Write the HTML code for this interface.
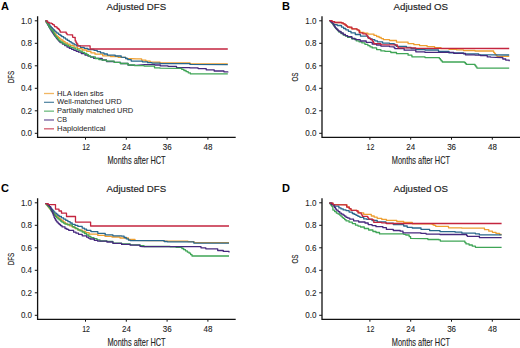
<!DOCTYPE html>
<html><head><meta charset="utf-8"><style>
html,body{margin:0;padding:0;background:#fff;}
svg{display:block;}
text{font-family:"Liberation Sans", sans-serif;}
</style></head><body>
<svg width="520" height="348" viewBox="0 0 520 348">
<rect width="520" height="348" fill="#fff"/>
<g transform="translate(0,0)">
<text x="1.1" y="9.6" font-size="11" font-weight="bold" fill="#000">A</text>
<text x="136.4" y="10" font-size="9.6" text-anchor="middle" fill="#222" stroke="#222" stroke-width="0.15" textLength="59.6" lengthAdjust="spacingAndGlyphs">Adjusted DFS</text>
<path d="M37.6 16.3 V137.3 H235.7" fill="none" stroke="#111" stroke-width="1.3"/>
<path d="M34.8 20.80 H37.6" stroke="#111" stroke-width="1"/>
<text x="32.1" y="23.80" font-size="8.3" text-anchor="end" fill="#222" stroke="#222" stroke-width="0.08" textLength="11.2" lengthAdjust="spacingAndGlyphs">1.0</text>
<path d="M34.8 43.30 H37.6" stroke="#111" stroke-width="1"/>
<text x="32.1" y="46.30" font-size="8.3" text-anchor="end" fill="#222" stroke="#222" stroke-width="0.08" textLength="11.2" lengthAdjust="spacingAndGlyphs">0.8</text>
<path d="M34.8 65.80 H37.6" stroke="#111" stroke-width="1"/>
<text x="32.1" y="68.80" font-size="8.3" text-anchor="end" fill="#222" stroke="#222" stroke-width="0.08" textLength="11.2" lengthAdjust="spacingAndGlyphs">0.6</text>
<path d="M34.8 88.30 H37.6" stroke="#111" stroke-width="1"/>
<text x="32.1" y="91.30" font-size="8.3" text-anchor="end" fill="#222" stroke="#222" stroke-width="0.08" textLength="11.2" lengthAdjust="spacingAndGlyphs">0.4</text>
<path d="M34.8 110.80 H37.6" stroke="#111" stroke-width="1"/>
<text x="32.1" y="113.80" font-size="8.3" text-anchor="end" fill="#222" stroke="#222" stroke-width="0.08" textLength="11.2" lengthAdjust="spacingAndGlyphs">0.2</text>
<path d="M34.8 133.30 H37.6" stroke="#111" stroke-width="1"/>
<text x="32.1" y="136.30" font-size="8.3" text-anchor="end" fill="#222" stroke="#222" stroke-width="0.08" textLength="11.2" lengthAdjust="spacingAndGlyphs">0.0</text>
<path d="M85.5 137.3 V139.70000000000002" stroke="#111" stroke-width="1"/>
<text x="86.10" y="150.4" font-size="8.7" text-anchor="middle" fill="#222" stroke="#222" stroke-width="0.1" textLength="7.8" lengthAdjust="spacingAndGlyphs">12</text>
<path d="M126.3 137.3 V139.70000000000002" stroke="#111" stroke-width="1"/>
<text x="126.40" y="150.4" font-size="8.7" text-anchor="middle" fill="#222" stroke="#222" stroke-width="0.1" textLength="8.9" lengthAdjust="spacingAndGlyphs">24</text>
<path d="M167.1 137.3 V139.70000000000002" stroke="#111" stroke-width="1"/>
<text x="167.20" y="150.4" font-size="8.7" text-anchor="middle" fill="#222" stroke="#222" stroke-width="0.1" textLength="8.9" lengthAdjust="spacingAndGlyphs">36</text>
<path d="M207.9 137.3 V139.70000000000002" stroke="#111" stroke-width="1"/>
<text x="208.00" y="150.4" font-size="8.7" text-anchor="middle" fill="#222" stroke="#222" stroke-width="0.1" textLength="8.9" lengthAdjust="spacingAndGlyphs">48</text>
<text x="136.5" y="163.6" font-size="10.5" text-anchor="middle" fill="#222" stroke="#222" stroke-width="0.12" textLength="58.2" lengthAdjust="spacingAndGlyphs">Months after HCT</text>
<text transform="translate(13.9,77.1) rotate(-90)" x="0" y="0" font-size="9.5" text-anchor="middle" fill="#222" stroke="#222" stroke-width="0.15" textLength="12.5" lengthAdjust="spacingAndGlyphs">DFS</text>
<path d="M44 93.50 H54" stroke="#ee9f30" stroke-width="1.3" opacity="0.75"/>
<text x="57.1" y="95.50" font-size="6.8" fill="#1e1e1e" stroke="#1e1e1e" stroke-width="0.03" textLength="46.4" lengthAdjust="spacingAndGlyphs">HLA iden sibs</text>
<path d="M44 102.33 H54" stroke="#28678c" stroke-width="1.3" opacity="0.75"/>
<text x="57.1" y="104.33" font-size="6.8" fill="#1e1e1e" stroke="#1e1e1e" stroke-width="0.03" textLength="64.6" lengthAdjust="spacingAndGlyphs">Well-matched URD</text>
<path d="M44 111.16 H54" stroke="#3fa556" stroke-width="1.3" opacity="0.75"/>
<text x="57.1" y="113.16" font-size="6.8" fill="#1e1e1e" stroke="#1e1e1e" stroke-width="0.03" textLength="76.2" lengthAdjust="spacingAndGlyphs">Partially matched URD</text>
<path d="M44 119.99 H54" stroke="#46287e" stroke-width="1.3" opacity="0.75"/>
<text x="57.1" y="121.99" font-size="6.8" fill="#1e1e1e" stroke="#1e1e1e" stroke-width="0.03" textLength="10" lengthAdjust="spacingAndGlyphs">CB</text>
<path d="M44 128.82 H54" stroke="#c4253f" stroke-width="1.3" opacity="0.75"/>
<text x="57.1" y="130.82" font-size="6.8" fill="#1e1e1e" stroke="#1e1e1e" stroke-width="0.03" textLength="48.4" lengthAdjust="spacingAndGlyphs">Haploidentical</text>
</g>
<path d="M45.5 20.8 L46.2 20.8 L46.2 22.0 L47.0 22.0 L47.0 23.1 L47.8 23.1 L47.8 24.3 L48.5 24.3 L48.5 25.5 L49.3 25.5 L49.3 26.7 L50.2 26.7 L50.2 27.8 L51.0 27.8 L51.0 29.0 L52.0 29.0 L52.0 30.3 L53.0 30.3 L53.0 31.7 L54.0 31.7 L54.0 33.0 L55.0 33.0 L55.0 34.2 L56.0 34.2 L56.0 35.3 L57.0 35.3 L57.0 36.5 L58.3 36.5 L58.3 37.7 L59.7 37.7 L59.7 38.8 L61.0 38.8 L61.0 40.0 L63.0 40.0 L63.0 41.5 L65.0 41.5 L65.0 43.0 L67.5 43.0 L67.5 44.2 L70.0 44.2 L70.0 45.5 L74.0 45.5 L74.0 47.2 L77.6 47.2 L77.6 48.7 L82.2 48.7 L82.2 50.0 L86.8 50.0 L86.8 51.4 L90.9 51.4 L90.9 52.8 L95.0 52.8 L95.0 54.2 L102.7 54.2 L102.7 55.8 L110.4 55.8 L110.4 56.5 L118.1 56.5 L118.1 57.3 L125.8 57.3 L125.8 58.5 L136.4 58.8 L141.6 58.8 L141.6 60.1 L145.9 60.1 L145.9 61.2 L150.2 61.2 L150.2 62.2 L160.0 62.2 L160.0 62.8 L190.0 62.8 L190.0 63.6 L227.8 63.9" fill="none" stroke="#ee9f30" stroke-width="1.3" stroke-linejoin="round"/>
<path d="M45.5 20.8 L46.8 20.8 L46.8 22.2 L48.0 22.2 L48.0 23.6 L49.0 23.6 L49.0 25.0 L50.0 25.0 L50.0 26.4 L51.2 26.4 L51.2 27.6 L52.3 27.6 L52.3 28.8 L53.5 28.8 L53.5 30.0 L54.6 30.0 L54.6 31.1 L55.8 31.1 L55.8 32.1 L56.9 32.1 L56.9 33.2 L58.5 33.2 L58.5 34.3 L60.1 34.3 L60.1 35.5 L61.7 35.5 L61.7 36.6 L63.6 36.6 L63.6 37.9 L65.5 37.9 L65.5 39.1 L67.3 39.1 L67.3 40.4 L69.2 40.4 L69.2 41.7 L71.1 41.7 L71.1 42.8 L72.9 42.8 L72.9 43.9 L74.8 43.9 L74.8 44.8 L76.7 44.8 L76.7 45.8 L80.4 45.8 L80.4 47.3 L84.2 47.3 L84.2 48.4 L87.9 48.4 L87.9 49.5 L94.0 49.5 L94.0 50.3 L97.2 50.3 L97.2 51.6 L100.5 51.6 L100.5 52.9 L104.0 52.9 L104.0 54.0 L107.4 54.0 L107.4 55.1 L115.2 55.1 L115.2 56.0 L121.2 56.0 L121.2 57.2 L123.4 57.3 L125.6 57.3 L125.6 58.5 L127.8 58.5 L127.8 59.7 L131.2 59.7 L131.2 61.0 L137.2 61.1 L142.4 61.1 L142.4 61.8 L147.6 61.8 L147.6 62.7 L151.9 62.7 L151.9 63.1 L160.0 63.1 L160.0 63.6 L190.0 63.6 L190.0 64.4 L227.8 64.6" fill="none" stroke="#28678c" stroke-width="1.3" stroke-linejoin="round"/>
<path d="M45.5 20.8 L46.1 20.8 L46.1 21.9 L46.8 21.9 L46.8 23.1 L47.4 23.1 L47.4 24.2 L48.0 24.2 L48.0 25.3 L48.6 25.3 L48.6 26.4 L49.2 26.4 L49.2 27.6 L49.9 27.6 L49.9 28.7 L50.5 28.7 L50.5 29.8 L51.3 29.8 L51.3 31.1 L52.1 31.1 L52.1 32.3 L52.9 32.3 L52.9 33.5 L53.7 33.5 L53.7 34.8 L54.6 34.8 L54.6 36.0 L55.5 36.0 L55.5 37.1 L56.4 37.1 L56.4 38.3 L57.3 38.3 L57.3 39.4 L58.2 39.4 L58.2 40.5 L59.2 40.5 L59.2 41.5 L60.1 41.5 L60.1 42.6 L62.4 42.6 L62.4 44.1 L64.7 44.1 L64.7 45.6 L67.0 45.6 L67.0 47.0 L69.3 47.0 L69.3 48.3 L71.6 48.3 L71.6 49.3 L73.9 49.3 L73.9 50.4 L76.2 50.4 L76.2 51.3 L78.5 51.3 L78.5 52.2 L81.3 52.2 L81.3 53.6 L85.0 53.6 L85.0 55.0 L87.9 55.0 L87.9 56.1 L90.7 56.1 L90.7 57.2 L93.6 57.2 L93.6 58.3 L102.2 58.3 L102.2 60.0 L106.5 60.0 L106.5 61.5 L114.2 61.5 L114.2 62.3 L120.4 62.3 L120.4 63.5 L128.0 63.5 L128.0 65.0 L136.0 65.3 L144.9 64.6 L154.9 64.6 L154.9 65.0 L160.3 65.0 L160.3 65.9 L168.0 65.9 L168.0 66.3 L176.5 66.3 L176.5 67.6 L190.0 67.6 L190.0 67.9 L198.1 67.9 L198.1 68.6 L206.2 68.6 L206.2 69.8 L214.2 69.8 L214.2 71.0 L223.9 71.0 L223.9 71.8 L227.8 71.8 L227.8 72.4" fill="none" stroke="#46287e" stroke-width="1.3" stroke-linejoin="round"/>
<path d="M45.5 20.8 L46.3 20.8 L46.3 22.2 L47.2 22.2 L47.2 23.6 L48.0 23.6 L48.0 25.0 L48.7 25.0 L48.7 26.2 L49.3 26.2 L49.3 27.3 L50.0 27.3 L50.0 28.5 L50.9 28.5 L50.9 29.6 L51.9 29.6 L51.9 30.6 L52.8 30.6 L52.8 31.7 L53.5 31.7 L53.5 32.9 L54.1 32.9 L54.1 34.0 L54.8 34.0 L54.8 35.1 L55.5 35.1 L55.5 36.3 L56.4 36.3 L56.4 37.4 L57.4 37.4 L57.4 38.6 L58.3 38.6 L58.3 39.8 L59.2 39.8 L59.2 40.9 L60.7 40.9 L60.7 42.0 L62.3 42.0 L62.3 43.0 L63.8 43.0 L63.8 44.1 L66.1 44.1 L66.1 45.2 L68.4 45.2 L68.4 46.4 L70.7 46.4 L70.7 47.3 L73.0 47.3 L73.0 48.2 L75.3 48.2 L75.3 49.2 L77.6 49.2 L77.6 50.1 L79.9 50.1 L79.9 51.2 L82.2 51.2 L82.2 52.4 L84.5 52.4 L84.5 53.5 L86.8 53.5 L86.8 54.7 L88.5 54.7 L88.5 55.8 L90.2 55.8 L90.2 56.8 L95.3 56.8 L95.3 58.5 L98.8 58.5 L98.8 59.6 L102.2 59.6 L102.2 60.2 L106.5 60.2 L106.5 61.2 L114.2 61.2 L114.2 62.3 L120.4 62.3 L120.4 63.5 L128.1 63.5 L128.1 65.0 L134.7 65.0 L134.7 65.7 L144.1 65.7 L144.1 66.1 L154.5 66.1 L154.5 67.8 L160.0 67.8 L160.0 68.2 L179.6 68.3 L181.8 68.3 L181.8 69.4 L183.9 69.4 L183.9 70.5 L186.1 70.5 L186.1 71.7 L188.2 71.7 L188.2 72.8 L190.4 72.8 L190.4 73.9 L227.8 73.9" fill="none" stroke="#3fa556" stroke-width="1.3" stroke-linejoin="round"/>
<path d="M45.5 20.8 L47.5 20.8 L47.5 22.3 L49.2 22.3 L49.2 23.2 L51.5 23.2 L51.5 23.6 L52.6 23.6 L52.6 24.6 L53.8 24.6 L53.8 25.0 L54.5 25.0 L54.5 26.7 L56.2 26.7 L56.2 27.2 L57.2 27.2 L57.2 28.5 L58.7 28.5 L58.7 29.4 L59.5 29.4 L59.5 30.7 L60.2 30.7 L60.2 32.0 L65.5 32.2 L66.2 32.2 L66.2 33.4 L67.0 33.4 L67.0 34.6 L71.4 34.8 L72.6 34.8 L72.6 37.2 L74.4 37.5 L75.2 37.5 L75.2 40.9 L76.0 40.9 L76.0 42.4 L76.7 42.4 L76.7 43.9 L77.8 43.9 L77.8 45.8 L89.3 45.9 L90.1 45.9 L90.1 49.0 L227.8 49.0" fill="none" stroke="#c4253f" stroke-width="1.3" stroke-linejoin="round"/>
<g transform="translate(284.4,0)">
<text x="-2.4" y="9.6" font-size="11" font-weight="bold" fill="#000">B</text>
<text x="136.4" y="10" font-size="9.6" text-anchor="middle" fill="#222" stroke="#222" stroke-width="0.15" textLength="54.6" lengthAdjust="spacingAndGlyphs">Adjusted OS</text>
<path d="M37.6 16.3 V137.3 H235.7" fill="none" stroke="#111" stroke-width="1.3"/>
<path d="M34.8 20.80 H37.6" stroke="#111" stroke-width="1"/>
<text x="32.1" y="23.80" font-size="8.3" text-anchor="end" fill="#222" stroke="#222" stroke-width="0.08" textLength="11.2" lengthAdjust="spacingAndGlyphs">1.0</text>
<path d="M34.8 43.30 H37.6" stroke="#111" stroke-width="1"/>
<text x="32.1" y="46.30" font-size="8.3" text-anchor="end" fill="#222" stroke="#222" stroke-width="0.08" textLength="11.2" lengthAdjust="spacingAndGlyphs">0.8</text>
<path d="M34.8 65.80 H37.6" stroke="#111" stroke-width="1"/>
<text x="32.1" y="68.80" font-size="8.3" text-anchor="end" fill="#222" stroke="#222" stroke-width="0.08" textLength="11.2" lengthAdjust="spacingAndGlyphs">0.6</text>
<path d="M34.8 88.30 H37.6" stroke="#111" stroke-width="1"/>
<text x="32.1" y="91.30" font-size="8.3" text-anchor="end" fill="#222" stroke="#222" stroke-width="0.08" textLength="11.2" lengthAdjust="spacingAndGlyphs">0.4</text>
<path d="M34.8 110.80 H37.6" stroke="#111" stroke-width="1"/>
<text x="32.1" y="113.80" font-size="8.3" text-anchor="end" fill="#222" stroke="#222" stroke-width="0.08" textLength="11.2" lengthAdjust="spacingAndGlyphs">0.2</text>
<path d="M34.8 133.30 H37.6" stroke="#111" stroke-width="1"/>
<text x="32.1" y="136.30" font-size="8.3" text-anchor="end" fill="#222" stroke="#222" stroke-width="0.08" textLength="11.2" lengthAdjust="spacingAndGlyphs">0.0</text>
<path d="M85.5 137.3 V139.70000000000002" stroke="#111" stroke-width="1"/>
<text x="86.10" y="150.4" font-size="8.7" text-anchor="middle" fill="#222" stroke="#222" stroke-width="0.1" textLength="7.8" lengthAdjust="spacingAndGlyphs">12</text>
<path d="M126.3 137.3 V139.70000000000002" stroke="#111" stroke-width="1"/>
<text x="126.40" y="150.4" font-size="8.7" text-anchor="middle" fill="#222" stroke="#222" stroke-width="0.1" textLength="8.9" lengthAdjust="spacingAndGlyphs">24</text>
<path d="M167.1 137.3 V139.70000000000002" stroke="#111" stroke-width="1"/>
<text x="167.20" y="150.4" font-size="8.7" text-anchor="middle" fill="#222" stroke="#222" stroke-width="0.1" textLength="8.9" lengthAdjust="spacingAndGlyphs">36</text>
<path d="M207.9 137.3 V139.70000000000002" stroke="#111" stroke-width="1"/>
<text x="208.00" y="150.4" font-size="8.7" text-anchor="middle" fill="#222" stroke="#222" stroke-width="0.1" textLength="8.9" lengthAdjust="spacingAndGlyphs">48</text>
<text x="136.5" y="163.6" font-size="10.5" text-anchor="middle" fill="#222" stroke="#222" stroke-width="0.12" textLength="58.2" lengthAdjust="spacingAndGlyphs">Months after HCT</text>
<text transform="translate(13.9,77.1) rotate(-90)" x="0" y="0" font-size="9.5" text-anchor="middle" fill="#222" stroke="#222" stroke-width="0.15" textLength="9" lengthAdjust="spacingAndGlyphs">OS</text>
</g>
<path d="M329.4 20.6 L332.0 20.6 L332.0 21.6 L334.6 21.6 L334.6 22.5 L341.5 22.5 L341.5 23.0 L343.2 23.0 L343.2 23.9 L345.0 23.9 L345.0 24.8 L346.3 24.8 L346.3 25.9 L347.6 25.9 L347.6 27.0 L349.8 27.0 L349.8 27.9 L351.9 27.9 L351.9 28.8 L357.0 28.8 L357.0 29.8 L358.6 29.8 L358.6 31.0 L360.2 31.0 L360.2 32.3 L364.0 32.3 L364.0 33.2 L367.9 33.2 L367.9 34.1 L374.0 34.1 L374.0 35.4 L376.6 35.4 L376.6 36.5 L379.1 36.5 L379.1 37.5 L381.2 37.5 L381.2 38.6 L383.4 38.6 L383.4 39.7 L389.5 39.7 L389.5 40.5 L396.5 40.5 L396.5 42.2 L408.1 42.2 L408.1 43.7 L413.9 43.7 L413.9 44.7 L419.6 44.7 L419.6 45.6 L427.1 45.6 L427.1 46.6 L434.6 46.6 L434.6 47.6 L441.0 47.6 L441.0 48.7 L449.0 48.7 L449.0 49.3 L456.7 49.3 L456.7 49.9 L463.5 49.9 L463.5 50.5 L475.0 50.5 L475.0 51.0 L493.6 51.0 L493.6 52.3 L494.5 52.3 L494.5 53.3 L495.3 53.3 L495.3 54.3 L496.1 54.3 L496.1 55.3 L497.0 55.3 L497.0 56.3 L509.2 56.3" fill="none" stroke="#ee9f30" stroke-width="1.3" stroke-linejoin="round"/>
<path d="M329.4 20.6 L330.9 20.6 L330.9 21.9 L332.3 21.9 L332.3 23.3 L333.8 23.3 L333.8 24.6 L337.2 24.6 L337.2 25.5 L341.5 25.5 L341.5 27.2 L343.6 27.2 L343.6 28.5 L345.8 28.5 L345.8 29.8 L348.4 29.8 L348.4 31.3 L351.0 31.3 L351.0 32.8 L355.3 32.8 L355.3 34.5 L360.5 34.5 L360.5 36.2 L367.9 36.2 L367.9 37.9 L370.0 37.9 L370.0 38.8 L372.2 38.8 L372.2 39.7 L374.8 39.7 L374.8 40.8 L377.4 40.8 L377.4 41.8 L382.6 41.8 L382.6 43.1 L389.5 43.1 L389.5 43.6 L394.2 43.6 L394.2 44.5 L395.4 44.5 L395.4 45.5 L396.5 45.5 L396.5 46.4 L406.5 46.4 L406.5 47.5 L411.1 47.5 L411.1 48.5 L415.8 48.5 L415.8 49.5 L425.0 49.5 L425.0 50.0 L438.5 50.0 L438.5 51.5 L449.0 51.5 L449.0 52.9 L463.5 52.9 L463.5 53.9 L478.7 53.9 L478.7 54.7 L509.2 55.0" fill="none" stroke="#28678c" stroke-width="1.3" stroke-linejoin="round"/>
<path d="M329.4 20.6 L330.4 20.6 L330.4 21.7 L331.5 21.7 L331.5 22.9 L332.5 22.9 L332.5 24.0 L333.2 24.0 L333.2 25.1 L334.0 25.1 L334.0 26.2 L334.8 26.2 L334.8 27.4 L335.5 27.4 L335.5 28.5 L336.6 28.5 L336.6 29.7 L337.8 29.7 L337.8 30.8 L338.9 30.8 L338.9 32.0 L341.0 32.0 L341.0 33.5 L343.2 33.5 L343.2 35.0 L345.4 35.0 L345.4 36.1 L347.6 36.1 L347.6 37.3 L351.9 37.3 L351.9 39.0 L356.2 39.0 L356.2 40.8 L359.0 40.8 L359.0 41.8 L361.9 41.8 L361.9 42.9 L364.9 42.9 L364.9 44.3 L367.9 44.3 L367.9 45.7 L370.0 45.7 L370.0 46.8 L372.2 46.8 L372.2 47.9 L376.6 47.9 L376.6 49.6 L380.9 49.6 L380.9 50.9 L385.0 50.9 L385.0 51.4 L390.8 51.4 L390.8 52.5 L396.5 52.5 L396.5 53.7 L408.1 53.7 L408.1 55.2 L411.9 55.2 L411.9 56.8 L425.0 56.8 L425.0 57.6 L439.4 57.6 L439.4 58.7 L440.4 58.7 L440.4 59.8 L441.3 59.8 L441.3 60.9 L442.3 60.9 L442.3 62.0 L464.4 62.0 L464.4 62.5 L465.4 62.5 L465.4 63.5 L466.3 63.5 L466.3 64.4 L475.0 64.4 L475.0 65.5 L475.9 65.5 L475.9 66.8 L476.9 66.8 L476.9 68.1 L509.2 68.1" fill="none" stroke="#3fa556" stroke-width="1.3" stroke-linejoin="round"/>
<path d="M329.4 20.6 L330.6 20.6 L330.6 21.7 L331.7 21.7 L331.7 22.7 L332.9 22.7 L332.9 23.8 L333.5 23.8 L333.5 24.9 L334.2 24.9 L334.2 26.0 L334.9 26.0 L334.9 27.0 L335.5 27.0 L335.5 28.1 L336.6 28.1 L336.6 29.2 L337.8 29.2 L337.8 30.4 L338.9 30.4 L338.9 31.5 L341.0 31.5 L341.0 33.0 L343.2 33.0 L343.2 34.5 L345.4 34.5 L345.4 35.6 L347.6 35.6 L347.6 36.7 L351.9 36.7 L351.9 38.4 L355.0 38.4 L355.0 39.7 L360.2 39.7 L360.2 41.0 L366.2 41.0 L366.2 42.3 L372.2 42.3 L372.2 44.0 L376.5 44.0 L376.5 45.0 L380.9 45.0 L380.9 46.1 L389.5 46.1 L389.5 46.6 L393.5 46.8 L394.2 46.8 L394.2 47.8 L395.0 47.8 L395.0 48.7 L404.2 48.7 L404.2 50.2 L415.8 50.2 L415.8 51.8 L425.0 51.8 L425.0 52.4 L453.8 52.4 L453.8 53.4 L465.4 53.4 L465.4 54.8 L475.0 54.8 L475.0 55.1 L480.4 55.1 L480.4 55.6 L487.3 55.6 L487.3 56.9 L490.7 56.9 L490.7 57.2 L501.7 57.5 L502.8 57.5 L502.8 59.0 L505.7 59.0 L505.7 60.1 L509.2 60.1 L509.2 61.3" fill="none" stroke="#46287e" stroke-width="1.3" stroke-linejoin="round"/>
<path d="M329.4 20.6 L332.0 20.6 L332.0 21.6 L334.6 21.6 L334.6 22.5 L341.5 22.5 L341.5 22.9 L343.2 22.9 L343.2 23.9 L345.0 23.9 L345.0 25.0 L346.3 25.0 L346.3 26.1 L347.6 26.1 L347.6 27.2 L351.9 27.2 L351.9 28.9 L357.0 28.9 L357.0 29.8 L358.4 29.8 L358.4 30.2 L359.3 30.2 L359.3 32.8 L362.8 32.8 L362.8 33.8 L366.2 33.8 L366.2 34.9 L367.1 34.9 L367.1 36.1 L367.9 36.1 L367.9 37.2 L368.8 37.2 L368.8 38.4 L370.5 38.4 L370.5 39.5 L372.2 39.5 L372.2 40.5 L372.8 40.5 L372.8 41.5 L373.4 41.5 L373.4 42.6 L374.0 42.6 L374.0 43.6 L380.9 43.6 L380.9 44.6 L396.5 44.8 L397.3 44.8 L397.3 46.3 L398.1 46.3 L398.1 47.8 L415.8 47.8 L415.8 48.4 L509.2 48.5" fill="none" stroke="#c4253f" stroke-width="1.3" stroke-linejoin="round"/>
<g transform="translate(0,182.0)">
<text x="1.1" y="9.6" font-size="11" font-weight="bold" fill="#000">C</text>
<text x="136.4" y="10" font-size="9.6" text-anchor="middle" fill="#222" stroke="#222" stroke-width="0.15" textLength="59.6" lengthAdjust="spacingAndGlyphs">Adjusted DFS</text>
<path d="M37.6 16.3 V137.3 H235.7" fill="none" stroke="#111" stroke-width="1.3"/>
<path d="M34.8 20.80 H37.6" stroke="#111" stroke-width="1"/>
<text x="32.1" y="23.80" font-size="8.3" text-anchor="end" fill="#222" stroke="#222" stroke-width="0.08" textLength="11.2" lengthAdjust="spacingAndGlyphs">1.0</text>
<path d="M34.8 43.30 H37.6" stroke="#111" stroke-width="1"/>
<text x="32.1" y="46.30" font-size="8.3" text-anchor="end" fill="#222" stroke="#222" stroke-width="0.08" textLength="11.2" lengthAdjust="spacingAndGlyphs">0.8</text>
<path d="M34.8 65.80 H37.6" stroke="#111" stroke-width="1"/>
<text x="32.1" y="68.80" font-size="8.3" text-anchor="end" fill="#222" stroke="#222" stroke-width="0.08" textLength="11.2" lengthAdjust="spacingAndGlyphs">0.6</text>
<path d="M34.8 88.30 H37.6" stroke="#111" stroke-width="1"/>
<text x="32.1" y="91.30" font-size="8.3" text-anchor="end" fill="#222" stroke="#222" stroke-width="0.08" textLength="11.2" lengthAdjust="spacingAndGlyphs">0.4</text>
<path d="M34.8 110.80 H37.6" stroke="#111" stroke-width="1"/>
<text x="32.1" y="113.80" font-size="8.3" text-anchor="end" fill="#222" stroke="#222" stroke-width="0.08" textLength="11.2" lengthAdjust="spacingAndGlyphs">0.2</text>
<path d="M34.8 133.30 H37.6" stroke="#111" stroke-width="1"/>
<text x="32.1" y="136.30" font-size="8.3" text-anchor="end" fill="#222" stroke="#222" stroke-width="0.08" textLength="11.2" lengthAdjust="spacingAndGlyphs">0.0</text>
<path d="M85.5 137.3 V139.70000000000002" stroke="#111" stroke-width="1"/>
<text x="86.10" y="150.4" font-size="8.7" text-anchor="middle" fill="#222" stroke="#222" stroke-width="0.1" textLength="7.8" lengthAdjust="spacingAndGlyphs">12</text>
<path d="M126.3 137.3 V139.70000000000002" stroke="#111" stroke-width="1"/>
<text x="126.40" y="150.4" font-size="8.7" text-anchor="middle" fill="#222" stroke="#222" stroke-width="0.1" textLength="8.9" lengthAdjust="spacingAndGlyphs">24</text>
<path d="M167.1 137.3 V139.70000000000002" stroke="#111" stroke-width="1"/>
<text x="167.20" y="150.4" font-size="8.7" text-anchor="middle" fill="#222" stroke="#222" stroke-width="0.1" textLength="8.9" lengthAdjust="spacingAndGlyphs">36</text>
<path d="M207.9 137.3 V139.70000000000002" stroke="#111" stroke-width="1"/>
<text x="208.00" y="150.4" font-size="8.7" text-anchor="middle" fill="#222" stroke="#222" stroke-width="0.1" textLength="8.9" lengthAdjust="spacingAndGlyphs">48</text>
<text x="136.5" y="163.6" font-size="10.5" text-anchor="middle" fill="#222" stroke="#222" stroke-width="0.12" textLength="58.2" lengthAdjust="spacingAndGlyphs">Months after HCT</text>
<text transform="translate(13.9,77.1) rotate(-90)" x="0" y="0" font-size="9.5" text-anchor="middle" fill="#222" stroke="#222" stroke-width="0.15" textLength="12.5" lengthAdjust="spacingAndGlyphs">DFS</text>
</g>
<path d="M45.4 203.6 L46.3 203.6 L46.3 204.7 L47.2 204.7 L47.2 205.8 L48.1 205.8 L48.1 206.9 L49.0 206.9 L49.0 208.0 L50.0 208.0 L50.0 209.2 L51.0 209.2 L51.0 210.5 L52.0 210.5 L52.0 211.8 L53.0 211.8 L53.0 213.0 L54.3 213.0 L54.3 214.3 L55.7 214.3 L55.7 215.7 L57.0 215.7 L57.0 217.0 L58.7 217.0 L58.7 218.3 L60.3 218.3 L60.3 219.7 L62.0 219.7 L62.0 221.0 L63.7 221.0 L63.7 222.2 L65.3 222.2 L65.3 223.3 L67.0 223.3 L67.0 224.5 L69.6 224.5 L69.6 225.8 L72.2 225.8 L72.2 227.0 L75.1 227.0 L75.1 228.5 L77.9 228.5 L77.9 230.0 L82.2 230.0 L82.2 231.1 L85.7 231.1 L85.7 232.6 L89.1 232.6 L89.1 234.1 L97.8 234.1 L97.8 235.4 L105.0 235.4 L105.0 236.3 L112.0 236.3 L112.0 237.0 L120.0 237.0 L120.0 238.0 L128.4 238.0 L128.4 239.5 L135.0 239.5 L135.0 240.3 L150.0 240.6 L164.0 240.6 L164.0 241.2 L175.0 241.2 L187.9 241.2 L187.9 241.6 L194.0 241.6 L194.0 242.5 L229.0 242.6" fill="none" stroke="#ee9f30" stroke-width="1.3" stroke-linejoin="round"/>
<path d="M45.4 203.6 L46.7 203.6 L46.7 204.6 L48.0 204.6 L48.0 205.5 L49.3 205.5 L49.3 206.9 L50.6 206.9 L50.6 208.3 L51.7 208.3 L51.7 209.5 L52.8 209.5 L52.8 210.7 L53.8 210.7 L53.8 211.9 L54.9 211.9 L54.9 213.1 L56.3 213.1 L56.3 214.2 L57.8 214.2 L57.8 215.4 L59.2 215.4 L59.2 216.5 L61.4 216.5 L61.4 217.8 L63.6 217.8 L63.6 219.1 L65.8 219.1 L65.8 220.4 L67.9 220.4 L67.9 221.7 L70.1 221.7 L70.1 223.0 L72.2 223.0 L72.2 224.3 L75.1 224.3 L75.1 225.4 L77.9 225.4 L77.9 226.4 L82.2 226.4 L82.2 228.1 L84.4 228.1 L84.4 229.2 L86.6 229.2 L86.6 230.3 L90.9 230.3 L90.9 231.6 L97.8 231.6 L97.8 233.3 L105.2 233.3 L105.2 234.9 L112.9 234.9 L112.9 235.8 L121.6 235.8 L121.6 236.2 L124.1 236.2 L124.1 237.5 L126.2 237.5 L126.2 238.8 L128.4 238.8 L128.4 240.1 L130.2 240.1 L130.2 240.5 L151.9 240.7 L164.2 240.7 L164.2 241.5 L167.3 241.5 L167.3 241.8 L187.9 241.9 L193.8 241.9 L193.8 243.1 L229.0 243.1" fill="none" stroke="#28678c" stroke-width="1.3" stroke-linejoin="round"/>
<path d="M45.4 203.6 L46.6 203.6 L46.6 204.9 L47.7 204.9 L47.7 206.2 L48.9 206.2 L48.9 207.5 L49.8 207.5 L49.8 208.8 L50.6 208.8 L50.6 210.1 L51.4 210.1 L51.4 211.4 L52.3 211.4 L52.3 212.7 L53.4 212.7 L53.4 214.0 L54.5 214.0 L54.5 215.2 L55.6 215.2 L55.6 216.5 L56.7 216.5 L56.7 217.8 L58.0 217.8 L58.0 218.9 L59.2 218.9 L59.2 219.9 L60.5 219.9 L60.5 221.0 L61.8 221.0 L61.8 222.1 L63.4 222.1 L63.4 223.1 L65.0 223.1 L65.0 224.2 L67.9 224.2 L67.9 224.9 L72.2 224.9 L72.2 226.6 L74.1 226.6 L74.1 227.7 L76.0 227.7 L76.0 228.7 L77.9 228.7 L77.9 229.8 L80.1 229.8 L80.1 230.9 L82.2 230.9 L82.2 232.0 L84.4 232.0 L84.4 233.5 L86.6 233.5 L86.6 235.0 L88.8 235.0 L88.8 236.3 L90.9 236.3 L90.9 237.6 L93.9 237.6 L93.9 238.7 L97.0 238.7 L97.0 239.9 L100.0 239.9 L100.0 241.0 L106.9 241.0 L106.9 241.4 L112.9 241.4 L112.9 243.1 L121.6 243.1 L121.6 244.0 L130.2 244.0 L130.2 244.6 L136.2 244.8 L140.0 244.8 L140.0 245.6 L144.0 245.6 L144.0 246.5 L170.0 246.5 L170.0 246.8 L176.0 246.8 L176.0 247.3 L181.9 247.3 L181.9 248.5 L183.7 248.5 L183.7 249.7 L185.5 249.7 L185.5 250.9 L187.3 250.9 L187.3 252.1 L189.1 252.1 L189.1 253.2 L190.6 253.2 L190.6 254.6 L192.0 254.6 L192.0 256.0 L229.0 256.0" fill="none" stroke="#3fa556" stroke-width="1.3" stroke-linejoin="round"/>
<path d="M45.4 203.6 L48.0 203.6 L48.0 205.2 L49.3 205.2 L49.3 206.6 L50.6 206.6 L50.6 208.0 L51.2 208.0 L51.2 209.7 L51.9 209.7 L51.9 211.3 L52.5 211.3 L52.5 213.0 L53.2 213.0 L53.2 215.1 L54.0 215.1 L54.0 217.2 L54.7 217.2 L54.7 218.6 L55.4 218.6 L55.4 220.0 L56.2 220.0 L56.2 221.1 L57.0 221.1 L57.0 222.2 L58.1 222.2 L58.1 223.3 L59.2 223.3 L59.2 224.5 L60.6 224.5 L60.6 225.7 L62.0 225.7 L62.0 226.8 L65.0 226.8 L65.0 228.5 L66.9 228.5 L66.9 229.4 L68.8 229.4 L68.8 230.4 L73.6 230.4 L73.6 232.2 L76.0 232.2 L76.0 233.2 L78.5 233.2 L78.5 234.3 L82.2 234.3 L82.2 235.8 L86.6 235.8 L86.6 237.2 L88.3 237.2 L88.3 238.1 L90.0 238.1 L90.0 239.0 L94.3 239.0 L94.3 240.3 L97.7 240.3 L97.7 241.2 L106.9 241.2 L106.9 242.0 L112.9 242.0 L112.9 243.3 L121.6 243.3 L121.6 244.4 L130.2 244.4 L130.2 245.2 L140.0 245.2 L140.0 246.3 L142.7 246.6 L196.2 246.7 L201.0 246.7 L201.0 247.8 L205.8 247.8 L205.8 248.8 L217.7 248.8 L217.7 250.5 L223.3 250.5 L223.3 251.4 L229.0 251.4 L229.0 252.4" fill="none" stroke="#46287e" stroke-width="1.3" stroke-linejoin="round"/>
<path d="M45.4 203.6 L48.0 203.6 L48.0 204.6 L55.5 204.6 L55.5 209.2 L59.0 209.2 L59.0 211.0 L61.5 211.0 L61.5 213.2 L66.5 213.2 L66.5 216.5 L75.5 216.5 L75.5 222.1 L90.6 222.1 L90.6 226.0 L229.0 226.0" fill="none" stroke="#c4253f" stroke-width="1.3" stroke-linejoin="round"/>
<g transform="translate(284.4,182.0)">
<text x="-2.4" y="9.6" font-size="11" font-weight="bold" fill="#000">D</text>
<text x="136.4" y="10" font-size="9.6" text-anchor="middle" fill="#222" stroke="#222" stroke-width="0.15" textLength="54.6" lengthAdjust="spacingAndGlyphs">Adjusted OS</text>
<path d="M37.6 16.3 V137.3 H235.7" fill="none" stroke="#111" stroke-width="1.3"/>
<path d="M34.8 20.80 H37.6" stroke="#111" stroke-width="1"/>
<text x="32.1" y="23.80" font-size="8.3" text-anchor="end" fill="#222" stroke="#222" stroke-width="0.08" textLength="11.2" lengthAdjust="spacingAndGlyphs">1.0</text>
<path d="M34.8 43.30 H37.6" stroke="#111" stroke-width="1"/>
<text x="32.1" y="46.30" font-size="8.3" text-anchor="end" fill="#222" stroke="#222" stroke-width="0.08" textLength="11.2" lengthAdjust="spacingAndGlyphs">0.8</text>
<path d="M34.8 65.80 H37.6" stroke="#111" stroke-width="1"/>
<text x="32.1" y="68.80" font-size="8.3" text-anchor="end" fill="#222" stroke="#222" stroke-width="0.08" textLength="11.2" lengthAdjust="spacingAndGlyphs">0.6</text>
<path d="M34.8 88.30 H37.6" stroke="#111" stroke-width="1"/>
<text x="32.1" y="91.30" font-size="8.3" text-anchor="end" fill="#222" stroke="#222" stroke-width="0.08" textLength="11.2" lengthAdjust="spacingAndGlyphs">0.4</text>
<path d="M34.8 110.80 H37.6" stroke="#111" stroke-width="1"/>
<text x="32.1" y="113.80" font-size="8.3" text-anchor="end" fill="#222" stroke="#222" stroke-width="0.08" textLength="11.2" lengthAdjust="spacingAndGlyphs">0.2</text>
<path d="M34.8 133.30 H37.6" stroke="#111" stroke-width="1"/>
<text x="32.1" y="136.30" font-size="8.3" text-anchor="end" fill="#222" stroke="#222" stroke-width="0.08" textLength="11.2" lengthAdjust="spacingAndGlyphs">0.0</text>
<path d="M85.5 137.3 V139.70000000000002" stroke="#111" stroke-width="1"/>
<text x="86.10" y="150.4" font-size="8.7" text-anchor="middle" fill="#222" stroke="#222" stroke-width="0.1" textLength="7.8" lengthAdjust="spacingAndGlyphs">12</text>
<path d="M126.3 137.3 V139.70000000000002" stroke="#111" stroke-width="1"/>
<text x="126.40" y="150.4" font-size="8.7" text-anchor="middle" fill="#222" stroke="#222" stroke-width="0.1" textLength="8.9" lengthAdjust="spacingAndGlyphs">24</text>
<path d="M167.1 137.3 V139.70000000000002" stroke="#111" stroke-width="1"/>
<text x="167.20" y="150.4" font-size="8.7" text-anchor="middle" fill="#222" stroke="#222" stroke-width="0.1" textLength="8.9" lengthAdjust="spacingAndGlyphs">36</text>
<path d="M207.9 137.3 V139.70000000000002" stroke="#111" stroke-width="1"/>
<text x="208.00" y="150.4" font-size="8.7" text-anchor="middle" fill="#222" stroke="#222" stroke-width="0.1" textLength="8.9" lengthAdjust="spacingAndGlyphs">48</text>
<text x="136.5" y="163.6" font-size="10.5" text-anchor="middle" fill="#222" stroke="#222" stroke-width="0.12" textLength="58.2" lengthAdjust="spacingAndGlyphs">Months after HCT</text>
<text transform="translate(13.9,77.1) rotate(-90)" x="0" y="0" font-size="9.5" text-anchor="middle" fill="#222" stroke="#222" stroke-width="0.15" textLength="9" lengthAdjust="spacingAndGlyphs">OS</text>
</g>
<path d="M329.4 203.2 L333.0 203.2 L333.0 204.6 L346.0 204.6 L346.0 204.9 L347.0 204.9 L347.0 207.0 L349.3 207.0 L349.3 208.3 L350.1 208.3 L350.1 209.3 L351.0 209.3 L351.0 210.3 L357.0 210.3 L357.0 211.2 L358.8 211.2 L358.8 212.8 L363.7 212.8 L363.7 214.4 L371.3 214.4 L371.3 216.0 L374.2 216.0 L374.2 217.2 L377.2 217.2 L377.2 218.3 L381.8 218.3 L381.8 219.4 L386.4 219.4 L386.4 220.4 L396.8 220.4 L396.8 221.5 L403.7 221.5 L403.7 222.5 L412.3 222.5 L412.3 223.8 L432.2 223.8 L432.2 224.5 L433.9 224.5 L433.9 225.4 L435.7 225.4 L435.7 226.3 L448.5 226.3 L448.5 227.8 L461.9 227.8 L461.9 228.2 L480.1 228.2 L484.5 228.2 L484.5 229.7 L488.8 229.7 L488.8 231.2 L492.4 231.2 L492.4 232.3 L496.0 232.3 L496.0 233.4 L499.6 233.4 L499.6 234.5 L501.6 234.5" fill="none" stroke="#ee9f30" stroke-width="1.3" stroke-linejoin="round"/>
<path d="M329.4 203.2 L332.0 203.2 L332.0 204.7 L334.6 204.7 L334.6 206.2 L338.9 206.2 L338.9 207.9 L341.0 207.9 L341.0 208.9 L343.2 208.9 L343.2 209.9 L346.0 209.9 L346.0 210.6 L349.1 210.6 L349.1 212.1 L352.3 212.1 L352.3 213.5 L354.2 213.5 L354.2 214.4 L356.1 214.4 L356.1 215.4 L358.0 215.4 L358.0 216.4 L359.9 216.4 L359.9 217.3 L363.7 217.3 L363.7 218.9 L366.9 218.9 L366.9 219.4 L372.0 219.4 L372.0 220.5 L377.2 220.5 L377.2 221.9 L385.9 221.9 L385.9 223.1 L393.3 223.1 L393.3 224.6 L403.7 224.6 L403.7 226.0 L407.2 226.0 L407.2 227.3 L412.3 227.3 L412.3 228.0 L421.0 228.0 L421.0 229.3 L429.6 229.3 L429.6 230.6 L440.0 230.6 L440.0 231.6 L455.2 231.6 L455.2 232.2 L461.9 232.2 L461.9 233.2 L475.4 233.2 L475.4 233.8 L479.4 233.8 L479.4 234.9 L501.6 234.9" fill="none" stroke="#28678c" stroke-width="1.3" stroke-linejoin="round"/>
<path d="M329.4 203.2 L330.3 203.2 L330.3 204.3 L331.1 204.3 L331.1 205.5 L332.0 205.5 L332.0 206.6 L332.9 206.6 L332.9 210.1 L334.6 210.1 L334.6 211.6 L336.3 211.6 L336.3 213.1 L338.1 213.1 L338.1 214.1 L339.8 214.1 L339.8 215.2 L340.9 215.2 L340.9 216.2 L342.1 216.2 L342.1 217.3 L343.2 217.3 L343.2 218.3 L344.6 218.3 L344.6 219.6 L346.0 219.6 L346.0 220.8 L349.1 220.8 L349.1 222.2 L352.3 222.2 L352.3 223.6 L355.5 223.6 L355.5 225.2 L358.0 225.2 L358.0 226.1 L360.5 226.1 L360.5 227.0 L364.3 227.0 L364.3 228.5 L368.6 228.5 L368.6 230.0 L372.9 230.0 L372.9 231.5 L376.0 231.5 L376.0 232.5 L379.5 232.5 L379.5 233.9 L403.7 233.9 L403.7 234.3 L405.8 234.3 L405.8 235.0 L409.2 235.0 L409.2 236.7 L410.6 236.7 L410.6 238.4 L425.3 238.6 L427.9 238.6 L427.9 239.5 L439.0 239.5 L439.0 239.9 L440.4 239.9 L440.4 241.2 L463.9 241.2 L464.9 241.2 L464.9 242.6 L466.0 242.6 L466.0 243.9 L469.1 243.9 L469.1 245.0 L472.3 245.0 L472.3 246.2 L475.4 246.2 L475.4 247.3 L501.6 247.3" fill="none" stroke="#3fa556" stroke-width="1.3" stroke-linejoin="round"/>
<path d="M329.4 203.2 L331.6 203.2 L331.6 204.7 L333.8 204.7 L333.8 206.2 L334.6 206.2 L334.6 207.5 L335.5 207.5 L335.5 208.8 L336.3 208.8 L336.3 210.1 L338.1 210.1 L338.1 211.6 L339.8 211.6 L339.8 213.1 L341.5 213.1 L341.5 214.1 L343.2 214.1 L343.2 215.2 L344.6 215.2 L344.6 216.2 L346.0 216.2 L346.0 217.3 L347.9 217.3 L347.9 218.2 L349.8 218.2 L349.8 219.2 L353.6 219.2 L353.6 220.8 L358.7 220.8 L358.7 222.0 L365.0 222.0 L365.0 223.0 L368.2 223.0 L368.2 224.6 L372.1 224.6 L372.1 225.6 L376.0 225.6 L376.0 226.7 L382.9 226.7 L382.9 227.7 L386.4 227.7 L386.4 229.4 L393.3 229.4 L393.3 230.5 L400.2 230.5 L400.2 231.2 L403.0 231.2 L403.0 232.9 L421.0 232.9 L421.0 233.4 L426.1 233.4 L426.1 234.1 L440.0 234.1 L440.0 234.5 L466.0 234.5 L466.6 234.5 L466.6 235.4 L467.3 235.4 L467.3 236.3 L478.1 236.3 L479.4 236.3 L479.4 237.6 L501.6 237.6" fill="none" stroke="#46287e" stroke-width="1.3" stroke-linejoin="round"/>
<path d="M329.4 203.2 L333.0 203.2 L333.0 204.6 L346.0 204.8 L346.7 204.8 L346.7 207.1 L349.2 207.1 L349.2 208.7 L351.1 208.7 L351.1 210.3 L356.8 210.3 L356.8 211.0 L358.0 211.0 L358.0 212.9 L361.2 212.9 L361.2 214.1 L361.9 214.1 L361.9 215.2 L362.5 215.2 L362.5 216.3 L367.5 216.3 L367.5 217.0 L368.1 217.0 L368.1 218.1 L368.8 218.1 L368.8 219.2 L372.6 219.2 L372.6 219.8 L373.8 219.8 L373.8 222.4 L381.6 222.4 L381.6 222.8 L386.4 222.8 L386.4 223.5 L501.6 223.5" fill="none" stroke="#c4253f" stroke-width="1.3" stroke-linejoin="round"/>
</svg>
</body></html>
